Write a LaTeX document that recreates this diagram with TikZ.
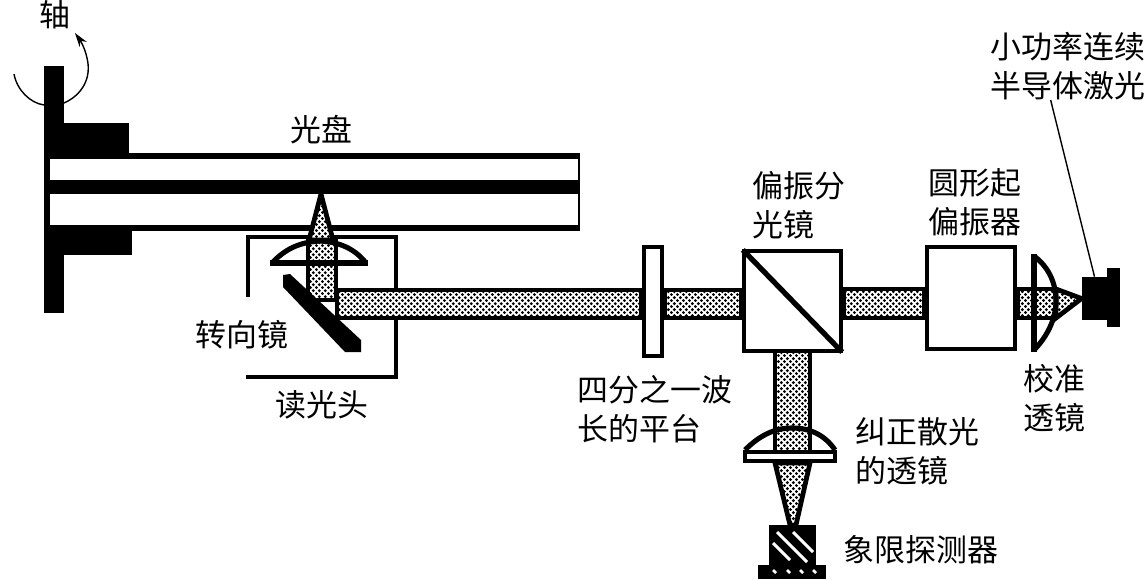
\documentclass[tikz,border=0pt]{standalone}
\usepackage{fontspec}
\setmainfont{Noto Sans CJK SC}
\usetikzlibrary{arrows.meta,patterns}
\pgfdeclarepatternformonly{beamdots}{\pgfqpoint{0pt}{0pt}}{\pgfqpoint{3.6pt}{3.6pt}}{\pgfqpoint{3.6pt}{3.6pt}}{
  \pgfpathcircle{\pgfqpoint{0.9pt}{0.9pt}}{1.0pt}
  \pgfpathcircle{\pgfqpoint{2.7pt}{2.7pt}}{1.0pt}
  \pgfusepath{fill}
}
\begin{document}
\begin{tikzpicture}[
    x=0.02cm, y=-0.02cm,
    optic/.style={draw, line width=2.7pt, fill=white, inner sep=0pt},
    solid block/.style={fill=black, inner sep=0pt},
    beam/.style={draw, line width=2.7pt, preaction={fill=white}, pattern=beamdots},
    lens/.style={draw, line width=2.9pt},
    lbl/.style={inner sep=0pt, align=left, font=\fontsize{17.6}{22}\selectfont},
    arr/.style={-{Stealth[length=8pt,width=5pt]}, line width=0.8pt}
]
\useasboundingbox (0,0) rectangle (1144,579);

% spindle and disc
\fill (44,66) rectangle (64,123);
\fill (44,255) rectangle (64,313);
\fill (44,123) rectangle (129,157);
\fill (44,225) rectangle (132,255);
\fill (44,153) rectangle (579,159);
\fill (44,180) rectangle (579,194);
\fill (44,225) rectangle (579,231);
\fill (44,153) rectangle (50,231);
\draw[line width=0.8pt] (579,153) -- (579,231);

% rotation
\draw[line width=0.8pt] (14,74) .. controls (17,90) and (30,103) .. (44,105);
\draw[arr] (64,103) .. controls (82,95) and (92,78) .. (87,58) .. controls (85,48) and (80,40) .. (75,33);

% read head
\draw[line width=2.5pt] (248,297) -- (248,237) -- (396,237) -- (396,377) -- (246,377);

% optics on the axis
\node[optic, minimum width=0.36cm, minimum height=2.18cm] (plate) at (653,301.5) {};
\node[optic, minimum width=1.94cm, minimum height=2cm] (cube) at (792.5,301) {};
\node[optic, minimum width=1.76cm, minimum height=2.04cm] (polarizer) at (971,298) {};
\node[solid block, minimum width=0.5cm, minimum height=0.86cm] (laser) at (1094.5,298.5) {};
\node[solid block, minimum width=0.94cm, minimum height=0.8cm] (detector) at (792.5,545) {};
\draw[line width=3pt, shorten >=1pt, shorten <=1pt] (cube.north west) -- (cube.south east);

% beams
\draw[beam] (321,194) -- (333,240) -- (309,240) -- cycle;
\draw[beam] (308,240) rectangle (336,300);
\draw[beam] (337,290) rectangle (plate.west |- 0,318);
\draw[beam] (plate.east |- 0,290) rectangle (cube.west |- 0,318);
\draw[beam] (cube.east |- 0,289) rectangle (polarizer.west |- 0,318);
\draw[beam] (polarizer.east |- 0,289) rectangle (1056,318);
\draw[beam] (1056,289) -- (laser.west) -- (1056,318) -- cycle;
\draw[beam] (775,351) rectangle (810,452);
\draw[beam] (775,463) -- (790,525) -- (796,525) -- (810,463) -- cycle;

% head lens and turning mirror
\draw[lens] (270,263) -- (368,263);
\draw[lens] (272,263) .. controls (285,249) and (300,242) .. (320,241) .. controls (340,242) and (355,249) .. (366,263);
\fill (283,275) -- (290,274) -- (361,340) -- (361,352) -- (345,352) -- (283,287) -- cycle;

% collimating lens
\draw[lens] (1034,254) -- (1034,352);
\draw[lens] (1034,256) .. controls (1050,268) and (1056,285) .. (1056,301) .. controls (1056,320) and (1046,338) .. (1034,350);

% astigmatic lens
\draw[lens] (745,450) .. controls (760,435) and (775,428) .. (792,428) .. controls (810,428) and (825,435) .. (835,450);
\draw[line width=2.4pt, fill=white] (745,452) rectangle (835,461);

% laser back and detector base
\node[solid block, minimum width=0.26cm, minimum height=1.18cm] (laserback) at (1113.5,297.5) {};
\node[solid block, minimum width=1.36cm, minimum height=0.28cm] (base) at (792,572) {};
\foreach \xa/\ya/\xb/\yb in {777/532/807/562, 793/532/813/552, 773/543/790/560}
  \draw[white, line width=1.7pt] (\xa,\ya) -- (\xb,\yb);
\foreach \xa in {773,787,800,813}
  \draw[white, line width=1.5pt] (\xa,570) -- (\xa+3,573);

% labels
\node[lbl] (axis) at (55,15) {轴};
\node[lbl] (disc) at (321,130) {光盘};
\node[lbl] (mirror) at (242,335) {转向镜};
\node[lbl] (head) at (322,405) {读光头};
\node[lbl, anchor=west] (platetxt) at (577,409) {四分之一波\\长的平台};
\node[lbl, anchor=west] (cubetxt) at (752,205) {偏振分\\光镜};
\node[lbl, anchor=west] (polarizertxt) at (928,202) {圆形起\\偏振器};
\node[lbl, anchor=west] (collimtxt) at (1023,398) {校准\\透镜};
\node[lbl, anchor=west] (lenstxt) at (855,451) {纠正散光\\的透镜};
\node[lbl, anchor=west] (detectortxt) at (843,550) {象限探测器};
\node[lbl, anchor=west] (lasertxt) at (990,66) {小功率连续\\半导体激光};

\draw[line width=0.8pt] ([xshift=-0.34cm]lasertxt.south) -- (laser.north);
\end{tikzpicture}
\end{document}
